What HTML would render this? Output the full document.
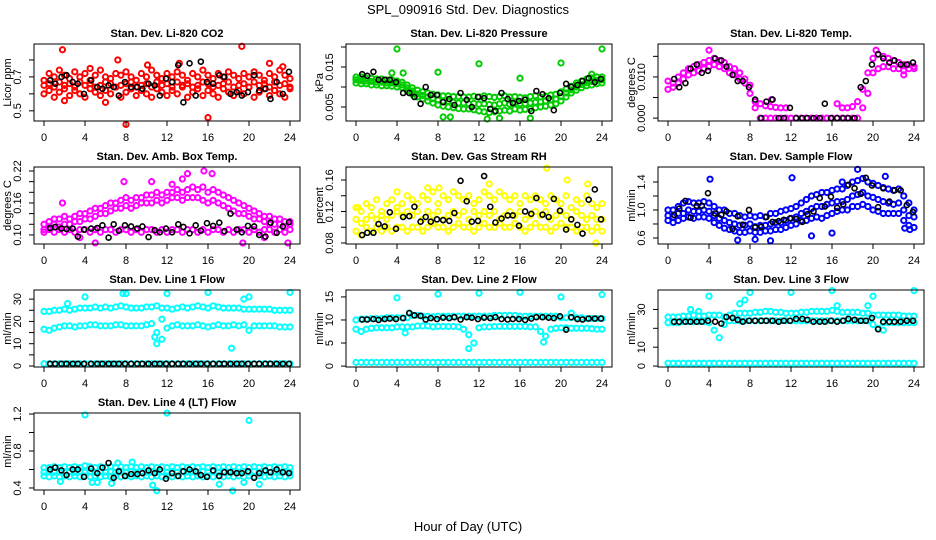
<!DOCTYPE html>
<html><head><meta charset="utf-8"><style>
body{margin:0;background:#fff;}
svg{display:block;font-family:"Liberation Sans",sans-serif;}
</style></head><body>
<svg id="fig" width="936" height="540" viewBox="0 0 936 540">
<text x="468" y="14" text-anchor="middle" font-size="13">SPL_090916  Std. Dev. Diagnostics</text>
<text x="468" y="531" text-anchor="middle" font-size="13">Hour of Day (UTC)</text>
</svg>
<script>
// ---- shared categories ----
const blackHours=[0.6,1.1,1.7,2.2,2.8,3.3,3.9,4.6,5.2,5.7,6.3,6.8,7.3,7.9,8.5,9.1,9.6,10.2,10.8,11.3,11.9,12.5,13.1,13.6,14.2,14.8,15.3,15.9,16.5,17.1,17.6,18.2,18.8,19.3,19.9,20.5,21.0,21.6,22.1,22.7,23.3,23.9];
const xTicks=[0,4,8,12,16,20,24];
// ---- P1 CO2 ----
const co2A=[.68,.72,.70,.74,.71,.69,.73,.70,.72,.68,.71,.74,.70,.69,.72,.71,.73,.70,.68,.72,.70,.74,.71,.69,.72,.70,.73,.71,.68,.72,.70,.74,.71,.69,.72,.70,.73,.71,.69,.72,.70,.73,.71,.68,.72,.70,.74,.71,.69];
const co2B=[.60,.62,.58,.61,.63,.59,.62,.60,.58,.63,.61,.59,.62,.60,.64,.58,.61,.63,.59,.62,.60,.58,.63,.61,.59,.62,.60,.64,.58,.61,.63,.59,.62,.60,.58,.63,.61,.59,.62,.60,.64,.58,.61,.63,.59,.62,.60,.58,.63];
const co2C=[.65,.66,.64,.67,.65,.66,.64,.67,.65,.66,.64,.65,.67,.66,.64,.65,.66,.67,.64,.65,.66,.64,.67,.65,.66,.64,.67,.65,.66,.64,.65,.67,.66,.64,.65,.66,.67,.64,.65,.66,.64,.67,.65,.66,.64,.67,.65,.66,.64];
const co2Out=[[1.8,.86],[8,.42],[19.3,.88],[16,.46],[7.2,.80],[10.1,.77],[13.2,.78],[22,.78],[2,.56],[6,.55],[4.5,.75],[23.3,.76]];
const co2Black=[.68,.66,.70,.71,.67,.66,.60,.68,.64,.63,.65,.64,.59,.67,.64,.64,.63,.66,.65,.59,.69,.67,.77,.55,.78,.59,.79,.67,.66,.71,.70,.60,.61,.59,.61,.71,.62,.63,.57,.67,.60,.73];
// ---- P2 Pressure ----
const prA=[.0125,.0125,.0122,.0122,.012,.012,.0118,.0118,.0115,.0112,.0105,.0098,.0092,.0088,.0085,.0082,.008,.0078,.0078,.0076,.0076,.0075,.0075,.0077,.0075,.0078,.0076,.0074,.0076,.0078,.0075,.0076,.0074,.0073,.0076,.0078,.0075,.0077,.008,.0082,.0088,.0095,.0102,.011,.0115,.012,.0123,.0125,.0125];
const prB=[.011,.0108,.0108,.0105,.0105,.0103,.0103,.0102,.01,.0098,.009,.0082,.0075,.007,.0065,.006,.0055,.0052,.005,.0048,.0046,.0045,.0045,.0043,.004,.0038,.0036,.0038,.004,.0042,.004,.0045,.0042,.0044,.0046,.0048,.005,.0052,.0055,.0058,.0065,.0075,.0085,.0092,.0098,.0103,.0105,.0108,.011];
const prC=[.0118,.0116,.0115,.0114,.0112,.0112,.011,.011,.0108,.0105,.0098,.009,.0083,.0079,.0075,.0071,.0068,.0065,.0064,.0062,.006,.006,.0058,.0059,.0057,.0058,.0056,.0055,.0058,.006,.0057,.006,.0058,.0058,.006,.0062,.0063,.0065,.0068,.007,.0076,.0085,.0093,.01,.0106,.0111,.0114,.0117,.0118];
const prOut=[[4,.0195],[12,.0158],[20,.016],[24,.0195],[8,.0137],[16,.0122],[4.6,.0135],[17,.0022],[8.5,.0025],[9.2,.0025],[12.8,.002],[14,.0022],[3.5,.0135],[23,.0132]];
const prBlack=[.0132,.0128,.0138,.0118,.0118,.0118,.0112,.0085,.0085,.0075,.0058,.0100,.0080,.0080,.0062,.0070,.0055,.0085,.0068,.0050,.0075,.0072,.0045,.0040,.0085,.0070,.0060,.0065,.0068,.0040,.0090,.0082,.0072,.0042,.0085,.0108,.0100,.0105,.0115,.0122,.0112,.0120];
// ---- P3 Temp ----
const tmA=[.009,.0085,.01,.011,.012,.0125,.013,.0135,.014,.0145,.014,.0135,.0125,.012,.011,.0095,.008,.004,.0035,.003,.0028,.0026,.0025,.0025,null,null,null,null,null,null,null,null,null,null,.0025,.0025,.0028,.004,.007,.011,.0145,.0155,.015,.0145,.014,.0135,.013,.013,.0125];
const tmB=[.007,.0075,.0085,.0095,.0105,.011,.0115,.012,.0125,.013,.0125,.012,.011,.0105,.0095,.0085,.006,.0025,0,0,0,0,0,0,0,0,0,0,0,0,0,0,0,0,0,0,0,0,.0025,.006,.011,.012,.0125,.0125,.012,.012,.0115,.012,.012];
const tmOut=[[4,.0165],[16.5,.0035],[10.1,.0045],[23,.0105],[20.3,.0165]];
const tmBlack=[.0095,.0075,.0085,.012,.013,.011,.0115,.0145,.014,.0125,.0105,.009,.009,.0075,.0045,0,.004,.0045,0,0,.0025,0,0,0,0,0,.0035,0,0,0,0,0,.0075,.009,.013,.0155,.0145,.0135,.014,.013,.013,.0135];
// ---- P4 Amb Box Temp ----
const amA=[.12,.125,.13,.13,.135,.13,.135,.14,.14,.145,.15,.15,.155,.16,.16,.165,.17,.165,.17,.17,.175,.175,.18,.175,.18,.18,.185,.18,.185,.19,.185,.19,.18,.185,.18,.175,.17,.165,.16,.155,.15,.145,.14,.135,.135,.13,.13,.125,.125];
const amB=[.11,.115,.12,.115,.12,.12,.125,.125,.13,.13,.135,.14,.14,.145,.15,.15,.155,.15,.155,.16,.16,.16,.165,.16,.165,.17,.17,.165,.17,.17,.17,.165,.16,.165,.16,.155,.15,.145,.14,.14,.135,.13,.13,.125,.12,.12,.12,.115,.12];
const amC=[.105,.11,.105,.11,.105,.11,.105,.11,.11,.105,.11,.105,.11,.11,.105,.11,.11,.105,.11,.105,.11,.11,.105,.11,.105,.11,.11,.105,.11,.11,.105,.11,.105,.11,.11,.105,.11,.105,.11,.11,.105,.11,.105,.11,.11,.105,.11,.105,.11];
const amOut=[[1.8,.16],[15.6,.22],[14,.215],[16.4,.215],[7.8,.20],[10.5,.20],[5,.085],[23.8,.085],[19.4,.085],[3.5,.095],[21.5,.095],[12.5,.195],[13.5,.205]];
const amBlack=[.113,.115,.112,.111,.112,.097,.110,.112,.113,.118,.095,.120,.108,.118,.116,.112,.116,.096,.109,.105,.112,.105,.120,.115,.103,.118,.108,.122,.117,.123,.107,.140,.110,.105,.117,.116,.100,.097,.123,.104,.116,.124];
// ---- P5 Gas RH ----
const rhA=[.125,.12,.13,.125,.135,.12,.13,.135,.125,.13,.14,.135,.13,.14,.135,.145,.13,.14,.135,.145,.14,.135,.14,.13,.135,.145,.14,.135,.145,.14,.135,.14,.13,.14,.135,.14,.135,.13,.14,.135,.13,.14,.125,.135,.13,.14,.13,.125,.13];
const rhB=[.11,.105,.11,.115,.11,.115,.11,.115,.12,.115,.12,.115,.12,.11,.12,.115,.12,.11,.115,.12,.115,.12,.11,.12,.115,.12,.115,.12,.11,.115,.12,.115,.12,.11,.115,.12,.115,.12,.11,.115,.12,.115,.11,.12,.115,.11,.115,.11,.11];
const rhC=[.095,.09,.1,.095,.1,.095,.1,.095,.1,.1,.095,.1,.1,.095,.1,.105,.1,.1,.095,.1,.105,.1,.1,.095,.1,.105,.1,.1,.105,.1,.1,.105,.1,.095,.1,.105,.1,.1,.095,.1,.105,.1,.1,.095,.1,.1,.095,.1,.095];
const rhOut=[[18.6,.175],[20.6,.16],[13,.155],[7,.15],[22.6,.155],[23.4,.08],[0.2,.125],[4,.145],[8.1,.15]];
const rhBlack=[.090,.093,.093,.104,.101,.119,.098,.113,.114,.126,.107,.113,.107,.110,.109,.108,.118,.159,.133,.107,.108,.165,.126,.106,.111,.115,.115,.102,.120,.117,.137,.116,.113,.136,.121,.097,.110,.103,.092,.135,.148,.110];
// ---- P6 Sample Flow ----
const sfA=[1.0,1.0,1.05,1.1,1.12,1.1,1.1,1.12,1.1,1.05,1.0,1.0,.95,.95,.92,.9,.92,.9,.92,.9,.95,.95,.98,1.0,1.02,1.05,1.1,1.15,1.2,1.22,1.25,1.25,1.28,1.3,1.3,1.35,1.4,1.42,1.45,1.4,1.38,1.35,1.32,1.3,1.28,1.3,1.2,1.1,1.0];
const sfB=[.92,.9,.95,.95,1.0,.98,.98,1.0,.98,.92,.88,.85,.82,.8,.78,.78,.8,.76,.78,.78,.8,.82,.82,.85,.88,.9,.95,.98,1.02,1.05,1.05,1.08,1.1,1.12,1.12,1.15,1.2,1.22,1.25,1.2,1.18,1.15,1.12,1.1,1.08,1.1,1.0,.92,.9];
const sfC=[.85,.82,.85,.88,.9,.88,.9,.9,.88,.82,.78,.74,.72,.7,.68,.68,.7,.68,.68,.7,.7,.72,.72,.75,.78,.8,.85,.85,.88,.9,.88,.92,.95,.98,1.0,1.0,1.05,1.05,1.08,1.05,1.0,.98,.95,.95,.95,.95,.85,.78,.75];
const sfOut=[[4.1,1.44],[12.1,1.46],[18.5,1.58],[21.2,1.48],[16,.67],[10,.56],[8.5,.58],[6.8,.57],[14,.63],[17,1.4],[23.1,.74],[23.6,.72]];
const sfBlack=[.93,1.02,1.13,.89,1.06,1.06,1.24,.95,.93,.98,.73,.91,.79,1.0,.75,.76,.90,.83,.84,.86,.88,.87,.83,.94,.98,1.17,1.05,1.19,1.03,1.08,1.36,1.31,1.23,1.46,1.35,1.04,1.31,1.12,1.28,1.28,1.07,.97];
// ---- P7 Line 1 ----
const l1A=[24.5,24.5,25,25,25.5,25,25.5,26,26,26,26.5,26,26.5,26,26.5,27,26.5,26,26,26,26.5,26.5,27,26,26,25.5,26,26.5,26,26.5,27,26.5,26,27,26.5,26,26,26,26,25.5,25.5,25.5,25.5,25.5,25.5,25,25,25,25];
const l1B=[16.5,16,17,17.5,18,18,17.5,18,18,18.5,18.5,18,18,18,18.5,18.5,18,18,18,18,18.5,19,15,12,17,18,18.5,18,18,18,18.5,18,17.5,18,18.5,18,18,18.5,18,18.5,16,18,18,18,18,18,17.5,17.5,17.5];
const l1C=[1,1,1,1,1,1,1,1,1,1,1,1,1,1,1,1,1,1,1,1,1,1,1,1,1,1,1,1,1,1,1,1,1,1,1,1,1,1,1,1,1,1,1,1,1,1,1,1,1];
const l1Out=[[4,31],[7.7,32.5],[8,32.5],[12,32.5],[16,33],[19.5,30],[20,31],[24,33],[18.3,8],[11,10],[10.8,13],[11.5,21],[2.3,28]];
const l1Black=[1,1,1,1,1,1,1,1,1,1,1,1,1,1,1,1,1,1,1,1,1,1,1,1,1,1,1,1,1,1,1,1,1,1,1,1,1,1,1,1,1,1];
// ---- P8 Line 2 ----
const l2A=[10,10.2,10.2,10.3,10.3,10.3,10.5,10.5,10.5,10.5,10.5,11,11,10.8,10.8,10.7,10.8,10.8,10.8,10.8,10.8,10.8,10.8,10.8,10.8,10.8,10.8,11,11,11,11,11,10.8,10.8,10.8,10.8,10.8,10.8,10.8,10.8,10.5,10.5,10.5,10.5,10.5,10.3,10.3,10.3,10.3];
const l2B=[8,7.5,8,8.2,8.3,8.3,8.3,8.3,8.5,8.5,8.5,8.5,8.7,8.7,8.7,8.5,8.6,8.6,8.6,8.6,8.5,8,6.8,5,8.3,8.5,8.5,8.6,8.6,8.6,8.6,8.6,8.6,8.6,8.5,8.5,7.5,6.5,8,8.2,8.3,8.3,8.2,8.2,8.2,8.2,8.1,8,8];
const l2C=[.8,.8,.8,.8,.8,.8,.8,.8,.8,.8,.8,.8,.8,.8,.8,.8,.8,.8,.8,.8,.8,.8,.8,.8,.8,.8,.8,.8,.8,.8,.8,.8,.8,.8,.8,.8,.8,.8,.8,.8,.8,.8,.8,.8,.8,.8,.8,.8,.8];
const l2Out=[[4,14.8],[8,15.6],[12,15.8],[16,16],[20,15],[24,15.5],[11,3.8],[18.3,5.2],[4.8,7.2],[21,11.5],[5.2,11.5]];
const l2Black=[10.1,10.1,10.2,10,10.2,10.3,10.2,10.4,11.5,11,10.9,10.1,10.4,10.2,10.5,10.4,10.6,10.1,10.6,10.5,10.2,10.5,10.4,10.6,10.2,10.1,10.2,10.2,10,10.3,10.6,10.6,10.5,10.4,10.8,7.9,10.6,10.2,10.1,10.3,10.3,10.3];
// ---- P9 Line 3 ----
const l3A=[26,26,26,26.5,26.5,27,26.5,26.5,27,27,27,26,27,28,28,28,28,28.5,28.5,29,29,28.5,28.5,28,28,28,28.5,28.5,29,29,29,29,29.5,29,28.5,28.5,28.5,28.5,28,28,27,27,27,27,27,27,26.5,26.5,26.5];
const l3B=[23,23,23,23.5,23.5,23.5,23.5,23.5,23,19,15,22,24,24,24,24,24,24,24,24,24,24,24,24,24,24,24,24,24,24,24,24,24,24,24,24,24,24,24,24,22,20,23,23,23,23,23,23,23];
const l3C=[1.5,1.5,1.5,1.5,1.5,1.5,1.5,1.5,1.5,1.5,1.5,1.5,1.5,1.5,1.5,1.5,1.5,1.5,1.5,1.5,1.5,1.5,1.5,1.5,1.5,1.5,1.5,1.5,1.5,1.5,1.5,1.5,1.5,1.5,1.5,1.5,1.5,1.5,1.5,1.5,1.5,1.5,1.5,1.5,1.5,1.5,1.5,1.5,1.5];
const l3Out=[[4,37],[8,39],[12,39],[16,40],[20,37],[24,40],[7.5,35],[7,33],[16.5,32],[19.5,32],[2.2,30],[3,29],[21,19]];
const l3Black=[23.5,23.5,23.5,23.5,23.5,23.5,24,23.5,22.5,26,25.5,24.5,23.5,24,24,24,24,24,23.5,24,24,25,25,24.5,23.5,23.5,23.5,24,23.5,24,25,24.5,24,24,25.5,19.5,23.5,23.5,23.5,23.5,24,24];
// ---- P10 Line 4 ----
const l4A=[.62,.62,.63,.62,.63,.62,.63,.62,.64,.63,.62,.63,.62,.63,.62,.63,.62,.63,.62,.63,.62,.63,.62,.63,.62,.63,.62,.63,.62,.63,.62,.63,.62,.63,.62,.63,.62,.63,.62,.63,.62,.63,.62,.63,.62,.63,.62,.63,.62];
const l4B=[.57,.58,.57,.58,.57,.58,.57,.58,.57,.58,.57,.58,.57,.58,.57,.58,.57,.58,.57,.58,.57,.58,.57,.58,.57,.58,.57,.58,.57,.58,.57,.58,.57,.58,.57,.58,.57,.58,.57,.58,.57,.58,.57,.58,.57,.58,.57,.58,.57];
const l4C=[.53,.52,.53,.52,.53,.52,.53,.52,.53,.52,.53,.52,.53,.52,.53,.52,.53,.52,.53,.52,.53,.52,.53,.52,.53,.52,.53,.52,.53,.52,.53,.52,.53,.52,.53,.52,.53,.52,.53,.52,.53,.52,.53,.52,.53,.52,.53,.52,.53];
const l4Out=[[4,1.19],[12,1.21],[20,1.13],[11,.37],[18.4,.37],[1.6,.47],[4.7,.46],[5.2,.46],[6.6,.45],[10.6,.43],[17.1,.44],[21,.44],[8.6,.68],[7.2,.67],[19.5,.46]];
const l4Black=[.60,.62,.59,.54,.60,.60,.52,.61,.56,.62,.67,.51,.58,.53,.55,.55,.56,.59,.56,.60,.50,.56,.53,.58,.60,.58,.54,.52,.59,.53,.57,.57,.56,.56,.58,.51,.56,.59,.57,.60,.57,.56];

const NS="http://www.w3.org/2000/svg";
const svg=document.getElementById('fig');
function mk(tag,attrs,parent){const e=document.createElementNS(NS,tag);for(const k in attrs)e.setAttribute(k,attrs[k]);(parent||svg).appendChild(e);return e;}

const panels=[
 {key:'co2',title:'Stan. Dev. Li-820 CO2',yt:'Licor ppm',col:0,row:0,lo:.44,hi:.894,ticks:[.5,.6,.7,.8],labels:['0.5','','0.7',''],color:'#ff0000',series:[co2A,co2B,co2C],out:co2Out,black:co2Black},
 {key:'pressure',title:'Stan. Dev. Li-820 Pressure',yt:'kPa',col:1,row:0,lo:.0015,hi:.02075,ticks:[.005,.01,.015,.02],labels:['0.005','','0.015',''],color:'#00cc00',series:[prA,prB,prC],out:prOut,black:prBlack},
 {key:'temp',title:'Stan. Dev. Li-820 Temp.',yt:'degrees C',col:2,row:0,lo:-.0007,hi:.018,ticks:[0,.005,.01,.015],labels:['0.000','','0.010',''],color:'#ff00ff',series:[tmA,tmB],out:tmOut,black:tmBlack},
 {key:'ambtemp',title:'Stan. Dev. Amb. Box Temp.',yt:'degrees C',col:0,row:1,lo:.083,hi:.2275,ticks:[.1,.12,.14,.16,.18,.2,.22],labels:['0.10','','','0.16','','','0.22'],color:'#ff00ff',series:[amA,amB,amC],out:amOut,black:amBlack},
 {key:'rh',title:'Stan. Dev. Gas Stream RH',yt:'percent',col:1,row:1,lo:.0787,hi:.1765,ticks:[.08,.1,.12,.14,.16],labels:['0.08','','0.12','','0.16'],color:'#ffff00',series:[rhA,rhB,rhC],out:rhOut,black:rhBlack},
 {key:'sampleflow',title:'Stan. Dev. Sample Flow',yt:'ml/min',col:2,row:1,lo:.514,hi:1.614,ticks:[.6,.8,1,1.2,1.4],labels:['0.6','','1.0','','1.4'],color:'#0000ff',series:[sfA,sfB,sfC],out:sfOut,black:sfBlack},
 {key:'line1',title:'Stan. Dev. Line 1 Flow',yt:'ml/min',col:0,row:2,lo:-.45,hi:34.1,ticks:[0,5,10,15,20,25,30],labels:['0','','10','','20','','30'],color:'#00ffff',series:[l1A,l1B,l1C],out:l1Out,black:l1Black},
 {key:'line2',title:'Stan. Dev. Line 2 Flow',yt:'ml/min',col:1,row:2,lo:-.2,hi:16.5,ticks:[0,5,10,15],labels:['0','5','10','15'],color:'#00ffff',series:[l2A,l2B,l2C],out:l2Out,black:l2Black},
 {key:'line3',title:'Stan. Dev. Line 3 Flow',yt:'ml/min',col:2,row:2,lo:-.5,hi:40.3,ticks:[0,10,20,30],labels:['0','10','','30'],color:'#00ffff',series:[l3A,l3B,l3C],out:l3Out,black:l3Black},
 {key:'line4',title:'Stan. Dev. Line 4 (LT) Flow',yt:'ml/min',col:0,row:3,lo:.378,hi:1.211,ticks:[.4,.6,.8,1,1.2],labels:['0.4','','0.8','','1.2'],color:'#00ffff',series:[l4A,l4B,l4C],out:l4Out,black:l4Black}
];
const colX=[34,346,658], rowY=[44,167,290,413], W=266, H=77;

panels.forEach(p=>{
  const L=colX[p.col], T=rowY[p.row], B=T+H, R=L+W;
  const g=mk('g',{});
  
  
  const xs=h=>L+10+h*(W-20)/24;
  const ys=v=>B-(v-p.lo)/(p.hi-p.lo)*H;
  const t=mk('text',{x:(L+R)/2,y:T-7,'text-anchor':'middle','font-size':11,'font-weight':'bold'},g);
  t.textContent=p.title;
  
  
  const pts=mk('g',{fill:'none',stroke:p.color,'stroke-width':2},g);
  
  
  p.series.forEach(arr=>{
    arr.forEach((v,i)=>{
      if(v===null)return;
      const h=i*24/(arr.length-1);
      const c=mk('circle',{cx:xs(h),cy:ys(v),r:2.6},pts);
      
      
    });
  });
  p.out.forEach(o=>{
    const c=mk('circle',{cx:xs(o[0]),cy:ys(o[1]),r:2.6},pts);
    
    
  });
  const bk=mk('g',{fill:'none',stroke:'#000','stroke-width':1.6},g);
  
  
  p.black.forEach((v,i)=>{
    const c=mk('circle',{cx:xs(blackHours[i]),cy:ys(v),r:2.5},bk);
    
    
  });
  const box=mk('rect',{x:L,y:T,width:W,height:H,fill:'none',stroke:'#000','stroke-width':1},g);
  
  
  const xa=mk('g',{stroke:'#000','stroke-width':1},g);
  
  
  mk('line',{x1:xs(0),x2:xs(24),y1:B,y2:B},xa);
  xTicks.forEach(h=>{
    mk('line',{x1:xs(h),x2:xs(h),y1:B,y2:B+5},xa);
    const tl=mk('text',{x:xs(h),y:B+20,'text-anchor':'middle','font-size':11,stroke:'none'},g);
    tl.textContent=h;
    
    
  });
  const ya=mk('g',{stroke:'#000','stroke-width':1},g);
  
  
  mk('line',{x1:L,x2:L,y1:ys(p.ticks[0]),y2:ys(p.ticks[p.ticks.length-1])},ya);
  p.ticks.forEach((v,i)=>{
    mk('line',{x1:L-5,x2:L,y1:ys(v),y2:ys(v)},ya);
    if(p.labels[i]){
      const tx=L-13, ty=ys(v);
      const tl=mk('text',{x:tx,y:ty,'text-anchor':'middle','font-size':11,transform:`rotate(-90 ${tx} ${ty})`},g);
      tl.textContent=p.labels[i];
      
      
    }
  });
  const yx=L-23, yy=(T+B)/2;
  const ytl=mk('text',{x:yx,y:yy,'text-anchor':'middle','font-size':11,transform:`rotate(-90 ${yx} ${yy})`},g);
  ytl.textContent=p.yt;
  
  
});
</script>
</body></html>
